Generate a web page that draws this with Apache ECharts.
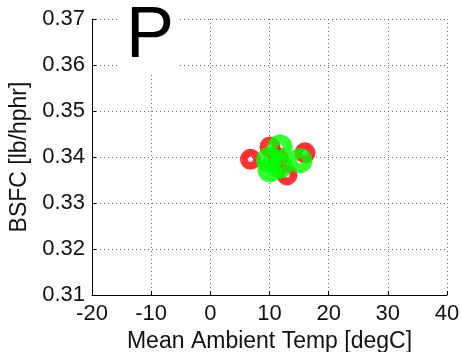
<!DOCTYPE html>
<html>
<head>
<meta charset="utf-8">
<script src="https://cdn.jsdelivr.net/npm/echarts@6/dist/echarts.min.js"></script>
<style>
html,body{margin:0;padding:0;background:#fff;}
#c{width:461px;height:352px;}
</style>
</head>
<body>
<div id="c"></div>
<script>
var xTicks = [-20, -10, 0, 10, 20, 30, 40];
var yTicks = [0.31, 0.32, 0.33, 0.34, 0.35, 0.36, 0.37];
var redPoints = [[6.79, 0.3395], [10.08, 0.3422], [12.96, 0.3361], [16.0, 0.3409], [11.44, 0.3398]];
var greenPoints = [[11.77, 0.3422], [9.83, 0.3394], [15.15, 0.3392], [11.77, 0.3380], [10.08, 0.3372]];
var xTitle = 'Mean Ambient Temp [degC]';
var yTitle = 'BSFC [lb/hphr]';
var panelLabel = 'P';

var chart = echarts.init(document.getElementById('c'), null, {renderer: 'canvas'});
var font = 'Liberation Sans, Arial, sans-serif';
var gridLine = {show: true, lineStyle: {color: '#666', type: [1, 3], width: 1}};
chart.setOption({
  animation: false,
  backgroundColor: '#fff',
  grid: {left: 92, right: 14, top: 19, bottom: 57, containLabel: false, outerBoundsMode: 'none'},
  graphic: [{
    type: 'text', left: 120, top: 1, z: 10,
    style: {text: panelLabel, font: '72px ' + font, fill: '#000', backgroundColor: '#fff', padding: [0, 6, 0, 6]}
  }],
  xAxis: {
    type: 'value', min: xTicks[0], max: xTicks[xTicks.length - 1], interval: 10,
    name: xTitle, nameLocation: 'middle', nameGap: 31,
    nameTextStyle: {fontFamily: font, fontSize: 23, color: '#111'},
    axisLine: {show: true, onZero: false, lineStyle: {color: '#000', width: 1}},
    axisTick: {show: true, inside: true, length: 4, lineStyle: {color: '#000'}},
    axisLabel: {fontFamily: font, fontSize: 22, color: '#111', margin: 8},
    splitLine: gridLine
  },
  yAxis: {
    type: 'value', min: yTicks[0], max: yTicks[yTicks.length - 1], interval: 0.01,
    name: yTitle, nameLocation: 'middle', nameGap: 61, nameRotate: 90,
    nameTextStyle: {fontFamily: font, fontSize: 23, color: '#111'},
    axisLine: {show: true, onZero: false, lineStyle: {color: '#000', width: 1}},
    axisTick: {show: true, inside: true, length: 4, lineStyle: {color: '#000'}},
    axisLabel: {fontFamily: font, fontSize: 22, color: '#111', margin: 7,
      formatter: function (v) { return v.toFixed(2); }},
    splitLine: gridLine
  },
  series: [{
    type: 'scatter', data: redPoints, symbol: 'circle', symbolSize: 13,
    itemStyle: {color: 'rgba(0,0,0,0)', borderColor: '#ff0000', borderWidth: 8}
  }, {
    type: 'scatter', data: greenPoints, symbol: 'circle', symbolSize: 15,
    itemStyle: {color: 'rgba(0,0,0,0)', borderColor: '#00ff00', borderWidth: 10}
  }]
});
</script>
</body>
</html>
